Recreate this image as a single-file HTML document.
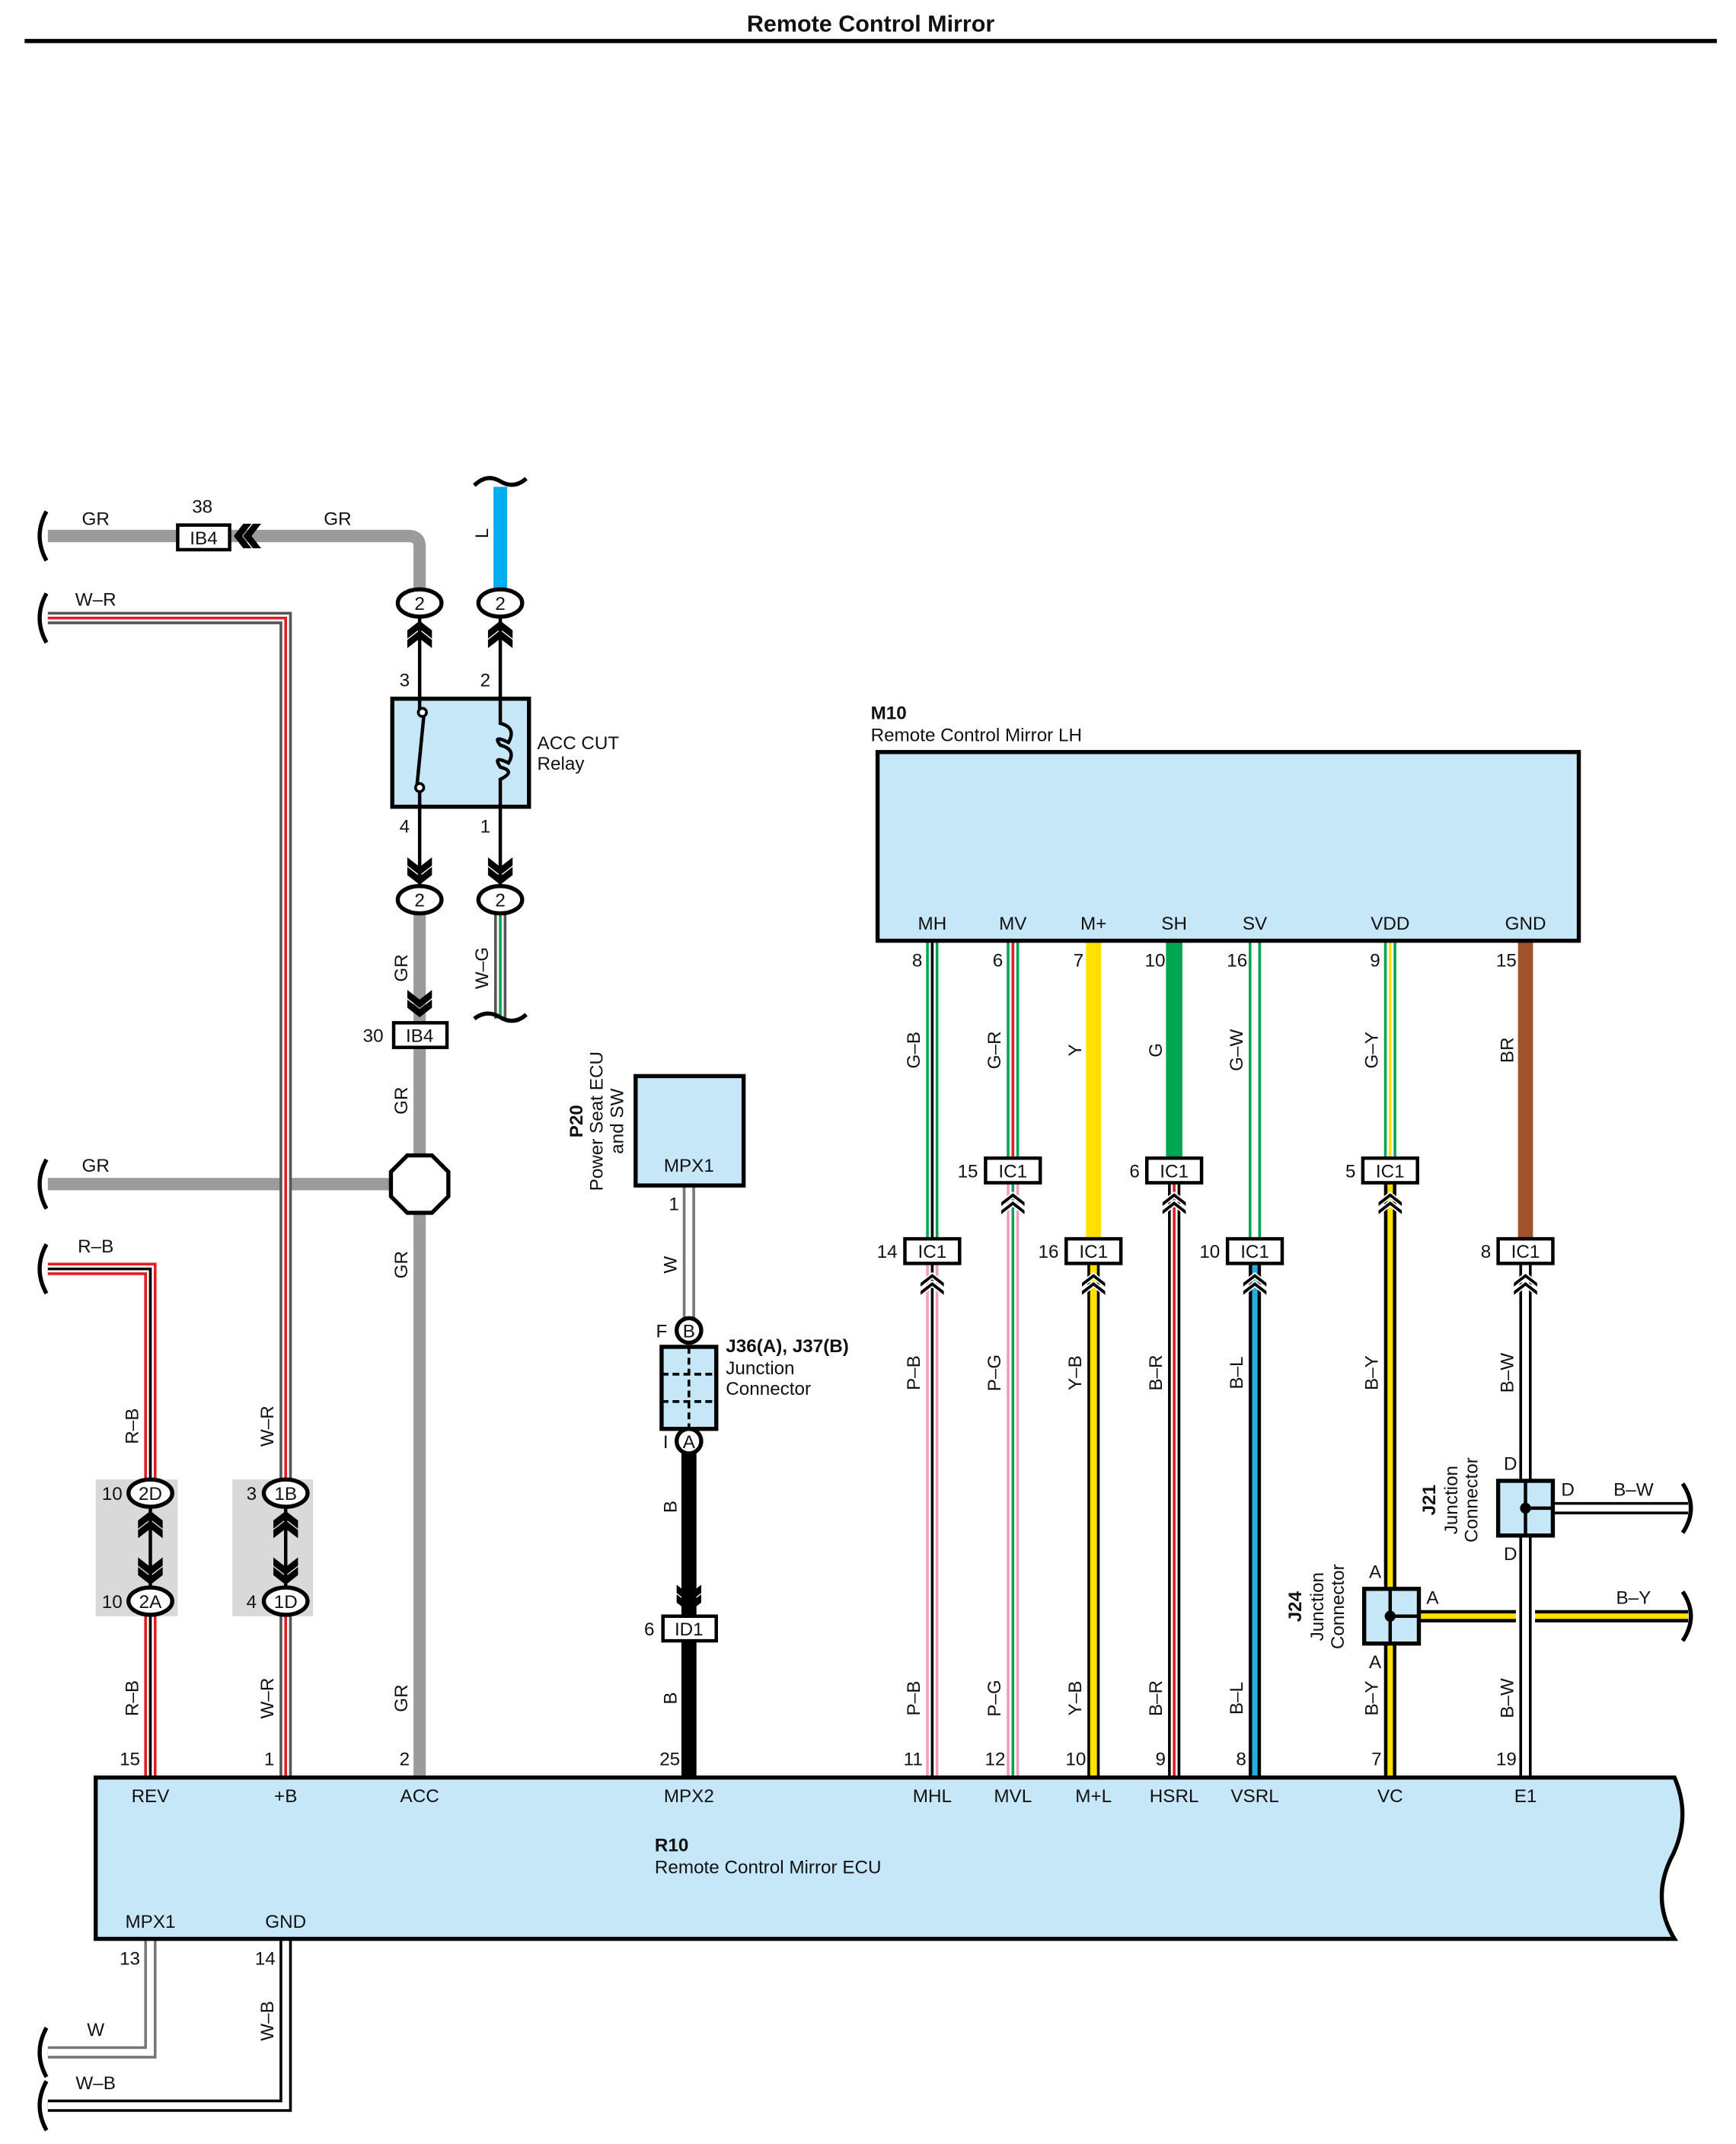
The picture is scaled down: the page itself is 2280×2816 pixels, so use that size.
<!DOCTYPE html>
<html><head><meta charset="utf-8"><style>
html,body{margin:0;padding:0;background:#fff}
svg{display:block}
text{font-family:"Liberation Sans",sans-serif;font-size:13.5px;fill:#111}
.b{font-weight:bold}
.o{fill:none;stroke-width:9}
.w{fill:none;stroke:#fff;stroke-width:5}
.s{fill:none;stroke-width:2}
.k{fill:none;stroke:#000;stroke-width:2.5}
.ov{fill:#fff;stroke:#000;stroke-width:3}
.bx{fill:#fff;stroke:#000;stroke-width:2.5}
.lb{fill:#c6e7f8;stroke:#000;stroke-width:3}
</style></head><body>
<svg width="2280" height="2816" viewBox="0 0 1270 1568" preserveAspectRatio="none" xmlns="http://www.w3.org/2000/svg">
<defs>
<g id="cd"><path d="M-9,-11 L0,-4 L9,-11 L9,-5 L0,2 L-9,-5Z M-9,-4 L0,3 L9,-4 L9,2 L0,9 L-9,2Z" fill="#000"/></g>
<g id="cdw"><path d="M-9,-10 L0,-3 L9,-10 L9,-6 L0,1 L-9,-6Z M-9,-4 L0,3 L9,-4 L9,0 L0,7 L-9,0Z" fill="#000" stroke="#fff" stroke-width="1"/></g>
</defs>
<text x="637" y="23" text-anchor="middle" class="b" style="font-size:17px">Remote Control Mirror</text>
<line x1="18" y1="30" x2="1256" y2="30" stroke="#000" stroke-width="3"/>

<path d="M35,392 H299 Q307,392 307,400 V432" fill="none" stroke="#9a9b9d" stroke-width="9"/>
<path d="M307,667 V1300" fill="none" stroke="#9a9b9d" stroke-width="9"/>
<path d="M35,866 H287" fill="none" stroke="#9a9b9d" stroke-width="9"/>
<path d="M366,356 V432" stroke="#00aeef" stroke-width="10" fill="none"/>
<path d="M35,452 H209 V1082" class="o" stroke="#555"/><path d="M35,452 H209 V1082" class="w"/><path d="M35,452 H209 V1082" class="s" stroke="#e31b23"/>
<path d="M209,1182 V1300" class="o" stroke="#555"/><path d="M209,1182 V1300" class="w"/><path d="M209,1182 V1300" class="s" stroke="#e31b23"/>
<path d="M35,928 H110 V1082" class="o" stroke="#e31b23"/><path d="M35,928 H110 V1082" class="w"/><path d="M35,928 H110 V1082" class="s" stroke="#000"/>
<path d="M110,1182 V1300" class="o" stroke="#e31b23"/><path d="M110,1182 V1300" class="w"/><path d="M110,1182 V1300" class="s" stroke="#000"/>
<path d="M366,667 V745" class="o" stroke="#555"/><path d="M366,667 V745" class="w"/><path d="M366,667 V745" class="s" stroke="#00a650"/>
<path d="M504,867 V964" class="o" stroke="#777"/><path d="M504,867 V964" class="w"/>
<path d="M504,1063 V1300" stroke="#000" stroke-width="11" fill="none"/>
<path d="M682,688 V906" class="o" stroke="#00a650"/><path d="M682,688 V906" class="w"/><path d="M682,688 V906" class="s" stroke="#000"/>
<path d="M682,924 V1300" class="o" stroke="#f49ac1"/><path d="M682,924 V1300" class="w"/><path d="M682,924 V1300" class="s" stroke="#000"/>
<path d="M741,688 V847" class="o" stroke="#00a650"/><path d="M741,688 V847" class="w"/><path d="M741,688 V847" class="s" stroke="#e31b23"/>
<path d="M741,865 V1300" class="o" stroke="#f49ac1"/><path d="M741,865 V1300" class="w"/><path d="M741,865 V1300" class="s" stroke="#00a650"/>
<path d="M800,688 V906" stroke="#ffe000" stroke-width="11" fill="none"/>
<path d="M800,924 V1300" class="o" stroke="#000"/><path d="M800,924 V1300" stroke="#ffe000" stroke-width="5" fill="none"/>
<path d="M859,688 V847" stroke="#00a650" stroke-width="12" fill="none"/>
<path d="M859,865 V1300" class="o" stroke="#000"/><path d="M859,865 V1300" class="w"/><path d="M859,865 V1300" class="s" stroke="#e31b23"/>
<path d="M918,688 V906" class="o" stroke="#00a650"/><path d="M918,688 V906" class="w"/>
<path d="M918,924 V1300" class="o" stroke="#000"/><path d="M918,924 V1300" stroke="#29abe2" stroke-width="4" fill="none"/>
<path d="M1017,688 V847" class="o" stroke="#00a650"/><path d="M1017,688 V847" class="w"/><path d="M1017,688 V847" class="s" stroke="#ffe000"/>
<path d="M1038,1182 H1235" class="o" stroke="#000"/><path d="M1038,1182 H1235" stroke="#ffe000" stroke-width="4" fill="none"/>
<path d="M1017,865 V1300" class="o" stroke="#000"/><path d="M1017,865 V1300" stroke="#ffe000" stroke-width="4" fill="none"/>
<path d="M1116,688 V906" stroke="#a0522d" stroke-width="11" fill="none"/>
<rect x="1109" y="1172" width="14" height="20" fill="#fff"/>
<path d="M1116,924 V1300" class="o" stroke="#000"/><path d="M1116,924 V1300" class="w"/>
<path d="M1136,1103 H1235" class="o" stroke="#000"/><path d="M1136,1103 H1235" class="w"/>
<path d="M110,1418 V1501 H35" class="o" stroke="#777"/><path d="M110,1418 V1501 H35" class="w"/>
<path d="M209,1418 V1540 H35" class="o" stroke="#000"/><path d="M209,1418 V1540 H35" class="w"/>

<g fill="none" stroke="#000" stroke-width="3">
<path d="M34,374 Q24,392 34,410"/>
<path d="M34,434 Q24,452 34,470"/>
<path d="M34,848 Q24,866 34,884"/>
<path d="M34,910 Q24,928 34,946"/>
<path d="M34,1483 Q24,1501 34,1519"/>
<path d="M34,1522 Q24,1540 34,1558"/>
<path d="M1231,1085 Q1243,1103 1231,1121"/>
<path d="M1231,1164 Q1243,1182 1231,1200"/>
<path d="M347,355 Q356,346 366,352 Q376,358 385,350"/>
<path d="M347,745 Q356,738 366,744 Q376,750 385,742"/>
</g>

<rect x="130" y="384" width="38" height="18" class="bx"/><text x="149" y="398" text-anchor="middle">IB4</text>
<use href="#cd" transform="translate(180,392) rotate(90)"/>
<text x="148" y="375" text-anchor="middle">38</text>
<text x="70" y="384" text-anchor="middle">GR</text>
<text x="247" y="384" text-anchor="middle">GR</text>
<text x="70" y="443" text-anchor="middle">W–R</text>
<text x="70" y="857" text-anchor="middle">GR</text>
<text x="70" y="916" text-anchor="middle">R–B</text>
<text x="70" y="1489" text-anchor="middle">W</text>
<text x="70" y="1528" text-anchor="middle">W–B</text>
<text transform="translate(357,390) rotate(-90)" text-anchor="middle">L</text>

<path d="M307,450 V511 M366,450 V511 M307,590 V650 M366,590 V650" class="k"/>
<use href="#cd" transform="translate(307,463) rotate(180)"/>
<use href="#cd" transform="translate(366,463) rotate(180)"/>
<use href="#cd" transform="translate(307,638)"/>
<use href="#cd" transform="translate(366,638)"/>
<rect x="287" y="511" width="100" height="79" class="lb"/>
<path d="M307,511 V521 M310,524 L305,575 M307,578 V590" class="k" stroke-width="2"/>
<circle cx="309" cy="521" r="3" fill="#fff" stroke="#000" stroke-width="2"/>
<circle cx="307" cy="576" r="3" fill="#fff" stroke="#000" stroke-width="2"/>
<path d="M366,511 V529 Q378,532 372,543 Q360,537 366,545 Q378,548 372,558 Q360,552 366,561 Q378,564 366,570 V590" class="k" stroke-width="2"/>
<text x="393" y="548">ACC CUT</text><text x="393" y="563">Relay</text>
<text x="296" y="502" text-anchor="middle">3</text><text x="355" y="502" text-anchor="middle">2</text>
<text x="296" y="609" text-anchor="middle">4</text><text x="355" y="609" text-anchor="middle">1</text>
<ellipse cx="307" cy="441" rx="16" ry="10" class="ov"/><text x="307" y="446" text-anchor="middle">2</text>
<ellipse cx="366" cy="441" rx="16" ry="10" class="ov"/><text x="366" y="446" text-anchor="middle">2</text>
<ellipse cx="307" cy="658" rx="16" ry="10" class="ov"/><text x="307" y="663" text-anchor="middle">2</text>
<ellipse cx="366" cy="658" rx="16" ry="10" class="ov"/><text x="366" y="663" text-anchor="middle">2</text>

<use href="#cd" transform="translate(307,735)"/>
<rect x="288" y="748" width="39" height="18" class="bx"/><text x="307" y="762" text-anchor="middle">IB4</text>
<text x="273" y="762" text-anchor="middle">30</text>
<polygon points="298,845 316,845 328,857 328,875 316,887 298,887 286,875 286,857" fill="#fff" stroke="#000" stroke-width="3"/>
<g text-anchor="middle">
<text transform="translate(298,708) rotate(-90)">GR</text>
<text transform="translate(357,708) rotate(-90)">W–G</text>
<text transform="translate(298,805) rotate(-90)">GR</text>
<text transform="translate(298,925) rotate(-90)">GR</text>
<text transform="translate(298,1242) rotate(-90)">GR</text>
<text transform="translate(101,1043) rotate(-90)">R–B</text>
<text transform="translate(101,1242) rotate(-90)">R–B</text>
<text transform="translate(200,1043) rotate(-90)">W–R</text>
<text transform="translate(200,1242) rotate(-90)">W–R</text>
<text transform="translate(200,1478) rotate(-90)">W–B</text>
<text transform="translate(495,925) rotate(-90)">W</text>
<text transform="translate(495,1102) rotate(-90)">B</text>
<text transform="translate(495,1242) rotate(-90)">B</text>
</g>

<rect x="70" y="1082" width="60" height="100" fill="#d9d9d9"/>
<rect x="170" y="1082" width="59" height="100" fill="#d9d9d9"/>
<path d="M110,1100 V1163 M209,1100 V1163" class="k"/>
<use href="#cd" transform="translate(110,1114) rotate(180)"/><use href="#cd" transform="translate(110,1150)"/>
<use href="#cd" transform="translate(209,1114) rotate(180)"/><use href="#cd" transform="translate(209,1150)"/>
<ellipse cx="110" cy="1092" rx="16" ry="10" class="ov"/><text x="110" y="1097" text-anchor="middle">2D</text>
<ellipse cx="110" cy="1171" rx="16" ry="10" class="ov"/><text x="110" y="1176" text-anchor="middle">2A</text>
<ellipse cx="209" cy="1092" rx="16" ry="10" class="ov"/><text x="209" y="1097" text-anchor="middle">1B</text>
<ellipse cx="209" cy="1171" rx="16" ry="10" class="ov"/><text x="209" y="1176" text-anchor="middle">1D</text>
<text x="82" y="1097" text-anchor="middle">10</text><text x="82" y="1176" text-anchor="middle">10</text>
<text x="184" y="1097" text-anchor="middle">3</text><text x="184" y="1176" text-anchor="middle">4</text>

<rect x="465" y="787" width="79" height="80" class="lb"/>
<text x="504" y="857" text-anchor="middle">MPX1</text>
<text transform="translate(426,820) rotate(-90)" text-anchor="middle" class="b">P20</text>
<text transform="translate(441,820) rotate(-90)" text-anchor="middle">Power Seat ECU</text>
<text transform="translate(456,820) rotate(-90)" text-anchor="middle">and SW</text>
<text x="493" y="885" text-anchor="middle">1</text>
<circle cx="504" cy="973" r="9" class="ov"/><text x="504" y="978" text-anchor="middle">B</text>
<text x="484" y="978" text-anchor="middle">F</text>
<rect x="484" y="985" width="40" height="60" class="lb"/>
<path d="M504,985 V1045 M484,1005 H524 M484,1025 H524" stroke="#000" stroke-width="2" stroke-dasharray="5,3" fill="none"/>
<circle cx="504" cy="1054" r="9" class="ov"/><text x="504" y="1059" text-anchor="middle">A</text>
<text x="487" y="1059" text-anchor="middle">I</text>
<text x="531" y="989" class="b">J36(A), J37(B)</text>
<text x="531" y="1005">Junction</text><text x="531" y="1020">Connector</text>
<use href="#cd" transform="translate(504,1170)"/>
<rect x="485" y="1182" width="39" height="18" class="bx"/><text x="504" y="1196" text-anchor="middle">ID1</text>
<text x="475" y="1196" text-anchor="middle">6</text>

<text x="637" y="526" class="b">M10</text>
<text x="637" y="542">Remote Control Mirror LH</text>
<rect x="642" y="550" width="513" height="138" class="lb"/>
<g text-anchor="middle">
<text x="682" y="680">MH</text><text x="741" y="680">MV</text><text x="800" y="680">M+</text><text x="859" y="680">SH</text><text x="918" y="680">SV</text><text x="1017" y="680">VDD</text><text x="1116" y="680">GND</text>
<text x="671" y="707">8</text><text x="730" y="707">6</text><text x="789" y="707">7</text><text x="845" y="707">10</text><text x="905" y="707">16</text><text x="1006" y="707">9</text><text x="1102" y="707">15</text>
<text transform="translate(673,768) rotate(-90)">G–B</text>
<text transform="translate(732,768) rotate(-90)">G–R</text>
<text transform="translate(791,768) rotate(-90)">Y</text>
<text transform="translate(850,768) rotate(-90)">G</text>
<text transform="translate(909,768) rotate(-90)">G–W</text>
<text transform="translate(1008,768) rotate(-90)">G–Y</text>
<text transform="translate(1107,768) rotate(-90)">BR</text>
<text transform="translate(673,1004) rotate(-90)">P–B</text>
<text transform="translate(732,1004) rotate(-90)">P–G</text>
<text transform="translate(791,1004) rotate(-90)">Y–B</text>
<text transform="translate(850,1004) rotate(-90)">B–R</text>
<text transform="translate(909,1004) rotate(-90)">B–L</text>
<text transform="translate(1008,1004) rotate(-90)">B–Y</text>
<text transform="translate(1107,1004) rotate(-90)">B–W</text>
<text transform="translate(673,1242) rotate(-90)">P–B</text>
<text transform="translate(732,1242) rotate(-90)">P–G</text>
<text transform="translate(791,1242) rotate(-90)">Y–B</text>
<text transform="translate(850,1242) rotate(-90)">B–R</text>
<text transform="translate(909,1242) rotate(-90)">B–L</text>
<text transform="translate(1008,1242) rotate(-90)">B–Y</text>
<text transform="translate(1107,1242) rotate(-90)">B–W</text>
</g>
<use href="#cdw" transform="translate(682,938) rotate(180)"/>
<use href="#cdw" transform="translate(741,879) rotate(180)"/>
<use href="#cdw" transform="translate(800,938) rotate(180)"/>
<use href="#cdw" transform="translate(859,879) rotate(180)"/>
<use href="#cdw" transform="translate(918,938) rotate(180)"/>
<use href="#cdw" transform="translate(1017,879) rotate(180)"/>
<use href="#cdw" transform="translate(1116,938) rotate(180)"/>
<g text-anchor="middle">
<rect x="662" y="906" width="40" height="18" class="bx"/><text x="682" y="920">IC1</text><text x="649" y="920">14</text>
<rect x="721" y="847" width="40" height="18" class="bx"/><text x="741" y="861">IC1</text><text x="708" y="861">15</text>
<rect x="780" y="906" width="40" height="18" class="bx"/><text x="800" y="920">IC1</text><text x="767" y="920">16</text>
<rect x="839" y="847" width="40" height="18" class="bx"/><text x="859" y="861">IC1</text><text x="830" y="861">6</text>
<rect x="898" y="906" width="40" height="18" class="bx"/><text x="918" y="920">IC1</text><text x="885" y="920">10</text>
<rect x="997" y="847" width="40" height="18" class="bx"/><text x="1017" y="861">IC1</text><text x="988" y="861">5</text>
<rect x="1096" y="906" width="40" height="18" class="bx"/><text x="1116" y="920">IC1</text><text x="1087" y="920">8</text>
</g>
<rect x="998" y="1162" width="40" height="40" class="lb"/>
<path d="M1017,1162 V1202 M1017,1182 H1038" class="k"/><circle cx="1017" cy="1182" r="4" fill="#000"/>
<text x="1006" y="1154" text-anchor="middle">A</text><text x="1006" y="1220" text-anchor="middle">A</text><text x="1048" y="1173" text-anchor="middle">A</text>
<text transform="translate(952,1175) rotate(-90)" text-anchor="middle" class="b">J24</text>
<text transform="translate(968,1175) rotate(-90)" text-anchor="middle">Junction</text>
<text transform="translate(983,1175) rotate(-90)" text-anchor="middle">Connector</text>
<rect x="1096" y="1083" width="40" height="40" class="lb"/>
<path d="M1116,1083 V1123 M1116,1103 H1136" class="k"/><circle cx="1116" cy="1103" r="4" fill="#000"/>
<text x="1105" y="1075" text-anchor="middle">D</text><text x="1105" y="1141" text-anchor="middle">D</text><text x="1147" y="1094" text-anchor="middle">D</text>
<text x="1195" y="1094" text-anchor="middle">B–W</text>
<text x="1195" y="1173" text-anchor="middle">B–Y</text>
<text transform="translate(1050,1097) rotate(-90)" text-anchor="middle" class="b">J21</text>
<text transform="translate(1066,1097) rotate(-90)" text-anchor="middle">Junction</text>
<text transform="translate(1081,1097) rotate(-90)" text-anchor="middle">Connector</text>

<g text-anchor="middle">
<text x="95" y="1291">15</text><text x="197" y="1291">1</text><text x="296" y="1291">2</text><text x="490" y="1291">25</text>
<text x="668" y="1291">11</text><text x="728" y="1291">12</text><text x="787" y="1291">10</text><text x="849" y="1291">9</text><text x="908" y="1291">8</text><text x="1007" y="1291">7</text><text x="1102" y="1291">19</text>
<text x="95" y="1437">13</text><text x="194" y="1437">14</text>
</g>
<path d="M70,1300 H1225 Q1238,1330 1222,1360 Q1208,1390 1225,1418 H70 Z" class="lb"/>
<g text-anchor="middle">
<text x="110" y="1318">REV</text><text x="209" y="1318">+B</text><text x="307" y="1318">ACC</text><text x="504" y="1318">MPX2</text>
<text x="682" y="1318">MHL</text><text x="741" y="1318">MVL</text><text x="800" y="1318">M+L</text><text x="859" y="1318">HSRL</text><text x="918" y="1318">VSRL</text><text x="1017" y="1318">VC</text><text x="1116" y="1318">E1</text>
<text x="110" y="1410">MPX1</text><text x="209" y="1410">GND</text>
</g>
<text x="479" y="1354" class="b">R10</text>
<text x="479" y="1370">Remote Control Mirror ECU</text>
</svg>
</body></html>
